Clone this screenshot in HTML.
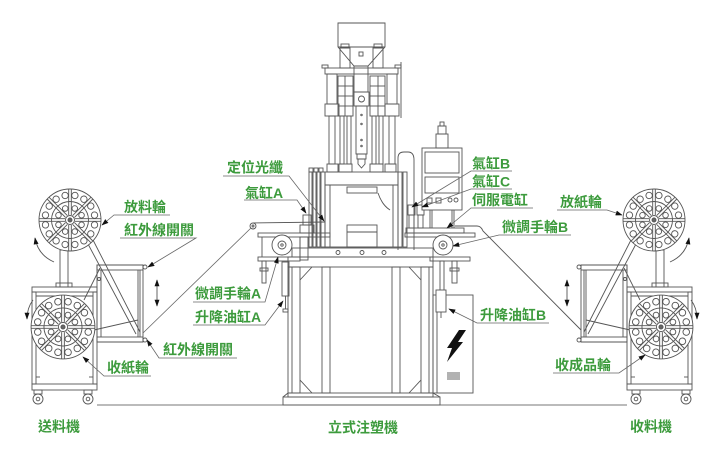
<!DOCTYPE html>
<html><head><meta charset="utf-8">
<style>
html,body{margin:0;padding:0;background:#fff;}
svg{display:block}
.l{fill:none;stroke:#555;stroke-width:0.9}
.t{font-family:"Liberation Sans","Noto Sans CJK TC",sans-serif;font-size:14px;fill:#3d9b3d;font-weight:bold}
.u{fill:none;stroke:#666;stroke-width:0.8}
</style></head><body>
<svg width="720" height="463" viewBox="0 0 720 463" xmlns="http://www.w3.org/2000/svg">
<defs>
<marker id="ar" viewBox="0 0 10 10" refX="9" refY="5" markerWidth="7" markerHeight="7" orient="auto-start-reverse" markerUnits="userSpaceOnUse">
<path d="M0,1.5 L10,5 L0,8.5 z" fill="#111" stroke="none"/>
</marker>
<g id="wh" class="l">
<circle r="31" fill="#fff"/>
<circle r="18.5"/>
<circle r="4.5"/>
<circle r="2" fill="#666"/>
<g id="sp"><path d="M5,-1.3H31M5,1.3H31"/></g>
<use href="#sp" transform="rotate(45)"/><use href="#sp" transform="rotate(90)"/><use href="#sp" transform="rotate(135)"/>
<use href="#sp" transform="rotate(180)"/><use href="#sp" transform="rotate(225)"/><use href="#sp" transform="rotate(270)"/><use href="#sp" transform="rotate(315)"/>
<circle cx="25" r="3.2" transform="rotate(11.25)"/><circle cx="25" r="3.2" transform="rotate(33.75)"/>
<circle cx="25" r="3.2" transform="rotate(56.25)"/><circle cx="25" r="3.2" transform="rotate(78.75)"/>
<circle cx="25" r="3.2" transform="rotate(101.25)"/><circle cx="25" r="3.2" transform="rotate(123.75)"/>
<circle cx="25" r="3.2" transform="rotate(146.25)"/><circle cx="25" r="3.2" transform="rotate(168.75)"/>
<circle cx="25" r="3.2" transform="rotate(191.25)"/><circle cx="25" r="3.2" transform="rotate(213.75)"/>
<circle cx="25" r="3.2" transform="rotate(236.25)"/><circle cx="25" r="3.2" transform="rotate(258.75)"/>
<circle cx="25" r="3.2" transform="rotate(281.25)"/><circle cx="25" r="3.2" transform="rotate(303.75)"/>
<circle cx="25" r="3.2" transform="rotate(326.25)"/><circle cx="25" r="3.2" transform="rotate(348.75)"/>
<circle cx="12.5" r="2.8" transform="rotate(22.5)"/><circle cx="12.5" r="2.8" transform="rotate(67.5)"/>
<circle cx="12.5" r="2.8" transform="rotate(112.5)"/><circle cx="12.5" r="2.8" transform="rotate(157.5)"/>
<circle cx="12.5" r="2.8" transform="rotate(202.5)"/><circle cx="12.5" r="2.8" transform="rotate(247.5)"/>
<circle cx="12.5" r="2.8" transform="rotate(292.5)"/><circle cx="12.5" r="2.8" transform="rotate(337.5)"/>
</g>
<g id="fd" class="l">
 <rect x="60" y="250" width="8" height="37"/>
 <rect x="56" y="283" width="16" height="4"/>
 <rect x="32" y="287" width="65" height="5"/>
 <rect x="32" y="292" width="4" height="92"/>
 <rect x="93" y="292" width="4" height="92"/>
 <line x1="36" y1="296" x2="93" y2="296"/>
 <rect x="32" y="384" width="65" height="6"/>
 <line x1="36" y1="377" x2="40" y2="377"/><line x1="89" y1="377" x2="93" y2="377"/>
 <rect x="34" y="390" width="8" height="4"/>
 <circle cx="38" cy="399" r="5"/><circle cx="38" cy="399" r="1.8"/>
 <rect x="84" y="390" width="8" height="4"/>
 <circle cx="88" cy="399" r="5"/><circle cx="88" cy="399" r="1.8"/>
 <rect x="97" y="265" width="46" height="77"/>
 <rect x="97" y="265" width="46" height="5"/>
 <rect x="97" y="337" width="46" height="5"/>
 <line x1="101" y1="270" x2="101" y2="337"/>
 <line x1="138" y1="270" x2="138" y2="337"/>
 <line x1="140" y1="270" x2="140" y2="337"/>
 <circle cx="145" cy="267" r="2"/><circle cx="145" cy="340" r="2"/>
 <circle cx="99" cy="279" r="1.5"/>
 <line x1="92" y1="238" x2="140" y2="332"/>
 <line x1="88" y1="244" x2="136" y2="334"/>
 <line x1="84" y1="300" x2="100" y2="268"/>
 <line x1="94" y1="330" x2="138" y2="320"/>
 <use href="#wh" x="70" y="220"/>
 <use href="#wh" transform="translate(63,327) scale(1.03)"/>
 <path d="M54,262 Q38,255 35,238" marker-end="url(#ar)"/>
 <path d="M33,300 Q27,308 27,319" marker-end="url(#ar)"/>
 <path d="M157,280 V306" marker-start="url(#ar)" marker-end="url(#ar)"/>
</g>
</defs>

<line x1="97" y1="405" x2="627" y2="405" stroke="#777" stroke-width="0.9"/>

<use href="#fd"/>
<use href="#fd" transform="matrix(-1,0,0,1,724,0)"/>

<g class="l">
 <path d="M338,23H385V47L368,66H354L338,47Z" fill="#fff"/>
 <line x1="338" y1="47" x2="385" y2="47"/>
 <rect x="359" y="52" width="4" height="4"/>
 <rect x="341" y="44" width="8" height="4"/><rect x="340" y="48" width="10" height="20"/>
 <rect x="374" y="44" width="8" height="4"/><rect x="373" y="48" width="10" height="20"/>
 <rect x="354" y="66" width="14" height="26"/>
 <rect x="325" y="68" width="73" height="6"/>
 <rect x="322" y="65" width="6" height="3"/><rect x="395" y="65" width="6" height="3"/>
 <rect x="327" y="74" width="10" height="30"/><rect x="325" y="104" width="14" height="12"/><rect x="329" y="116" width="6" height="48"/>
 <rect x="387" y="74" width="10" height="30"/><rect x="385" y="104" width="14" height="12"/><rect x="389" y="116" width="6" height="48"/>
 <line x1="401" y1="62" x2="401" y2="118"/>
 <rect x="338" y="76" width="15" height="40"/>
 <line x1="338" y1="86" x2="353" y2="86"/><line x1="338" y1="96" x2="353" y2="96"/><line x1="338" y1="106" x2="353" y2="106"/>
 <line x1="345" y1="76" x2="345" y2="116"/>
 <rect x="370" y="76" width="15" height="40"/>
 <line x1="370" y1="86" x2="385" y2="86"/><line x1="370" y1="96" x2="385" y2="96"/><line x1="370" y1="106" x2="385" y2="106"/>
 <line x1="378" y1="76" x2="378" y2="116"/>
 <rect x="354" y="92" width="15" height="14"/><circle cx="361.5" cy="99" r="3"/>
 <rect x="356" y="106" width="11" height="48"/>
 <circle cx="361.5" cy="115" r="0.8"/><circle cx="361.5" cy="124" r="0.8"/><circle cx="361.5" cy="140" r="0.8"/><circle cx="361.5" cy="146" r="0.8"/>
 <rect x="357" y="154" width="9" height="5"/>
 <path d="M358,159H365V164L361.5,168L358,164Z"/>
 <rect x="340" y="116" width="4" height="48"/><rect x="347" y="116" width="4" height="48"/>
 <rect x="372" y="116" width="4" height="48"/><rect x="379" y="116" width="4" height="48"/>
 <rect x="327" y="164" width="11" height="8"/><rect x="339" y="164" width="13" height="8"/>
 <rect x="370" y="164" width="13" height="8"/><rect x="385" y="164" width="11" height="8"/>
 <path d="M398,250V158Q398,152 404,152H408Q414,152 414,160V250"/>
 <rect x="309" y="172" width="3" height="75"/><rect x="313" y="172" width="3" height="75"/>
 <rect x="317" y="172" width="3" height="75"/><rect x="321" y="172" width="4" height="75"/>
 <rect x="309" y="168" width="4" height="4"/><rect x="314" y="168" width="4" height="4"/><rect x="319" y="168" width="4" height="4"/>
 <rect x="325" y="172" width="73" height="13"/>
 <rect x="325" y="185" width="73" height="62"/>
 <line x1="330" y1="185" x2="330" y2="247"/><line x1="393" y1="185" x2="393" y2="247"/>
 <rect x="347" y="187" width="30" height="6"/>
 <rect x="347" y="225" width="30" height="22"/><line x1="347" y1="232" x2="377" y2="232"/>
 <path d="M378,193Q382,205 390,210"/>
 <rect x="398" y="172" width="4" height="75"/><rect x="403" y="172" width="4" height="75"/>
 <path d="M253,223 L325,222"/>
 <circle cx="253" cy="226" r="3"/><circle cx="253" cy="226" r="1"/>
 <rect x="258" y="233" width="72" height="4"/>
 <rect x="258" y="257" width="42" height="4"/>
 <line x1="262" y1="237" x2="262" y2="257"/><line x1="300" y1="237" x2="300" y2="257"/>
 <rect x="262" y="261" width="4" height="22"/><rect x="260" y="268" width="8" height="3"/>
 <rect x="282" y="262" width="7" height="34"/>
 <line x1="285.5" y1="296" x2="285.5" y2="309"/><rect x="283" y="309" width="5" height="3"/>
 <rect x="303" y="215" width="8" height="10"/><rect x="300" y="225" width="14" height="8"/>
 <rect x="300" y="237" width="8" height="23"/>
 <circle cx="282" cy="245" r="10" fill="#fff"/><circle cx="282" cy="245" r="4"/><circle cx="282" cy="245" r="1.2"/>
 <rect x="405" y="233" width="70" height="4"/>
 <rect x="430" y="257" width="40" height="4"/>
 <path d="M455,226H477Q481,226 483,231L581,330"/>
 <rect x="408" y="205" width="7" height="10"/><rect x="409" y="215" width="5" height="13"/>
 <rect x="417" y="205" width="7" height="10"/><rect x="418" y="215" width="5" height="13"/>
 <rect x="406" y="228" width="58" height="5"/>
 <line x1="430" y1="210" x2="430" y2="228"/><line x1="432" y1="210" x2="432" y2="228"/>
 <line x1="452" y1="210" x2="452" y2="228"/><line x1="454" y1="210" x2="454" y2="228"/>
 <rect x="452" y="261" width="5" height="22"/><rect x="450" y="268" width="9" height="3"/>
 <rect x="440" y="261" width="4" height="36"/>
 <circle cx="443" cy="245" r="10" fill="#fff"/><circle cx="443" cy="245" r="4"/><circle cx="443" cy="245" r="1.2"/>
 <rect x="422" y="148" width="40" height="62" fill="#fff"/>
 <rect x="425" y="152" width="34" height="21"/>
 <rect x="425" y="177" width="34" height="16"/>
 <rect x="427" y="198" width="5" height="5"/><rect x="436" y="198" width="5" height="5"/>
 <circle cx="450" cy="200" r="2"/><circle cx="456" cy="200" r="2"/>
 <rect x="436" y="134" width="12" height="14"/><rect x="438" y="126" width="8" height="8"/><rect x="440" y="122" width="4" height="4"/>
 <rect x="292" y="248" width="141" height="9"/>
 <circle cx="338" cy="252.5" r="2"/><circle cx="362" cy="252.5" r="2"/><circle cx="384" cy="252.5" r="2"/>
 <rect x="288" y="257" width="145" height="10"/>
 <rect x="288" y="267" width="12" height="126"/><line x1="292" y1="267" x2="292" y2="393"/>
 <rect x="421" y="267" width="12" height="126"/><line x1="429" y1="267" x2="429" y2="393"/>
 <rect x="322" y="267" width="8" height="126"/>
 <rect x="392" y="267" width="8" height="126"/>
 <line x1="300" y1="280" x2="312" y2="267"/><line x1="409" y1="267" x2="421" y2="280"/>
 <line x1="300" y1="380" x2="312" y2="393"/><line x1="409" y1="393" x2="421" y2="380"/>
 <rect x="288" y="393" width="145" height="4"/>
 <rect x="283" y="397" width="157" height="8"/>
 <path d="M283,397L288,393M440,397L433,393"/>
 <rect x="433" y="295" width="40" height="98"/>
 <line x1="437" y1="295" x2="437" y2="393"/>
 <rect x="436" y="290" width="10" height="22" fill="#fff"/>
 <line x1="441" y1="312" x2="441" y2="318"/>
 <line x1="447" y1="373" x2="460" y2="373"/><line x1="447" y1="375" x2="460" y2="375"/>
 <line x1="447" y1="377" x2="460" y2="377"/><line x1="447" y1="379" x2="460" y2="379"/>
</g>
<polygon points="459,330 466,330 458,342 463,342 447,362 452,348 447,348" fill="#111"/>

<line x1="251" y1="228" x2="143" y2="333" stroke="#666" stroke-width="0.8"/>

<g class="u">
 <path d="M170,215H114L102,225" marker-end="url(#ar)"/>
 <path d="M120,238H196L148,267" marker-end="url(#ar)"/>
 <path d="M237,358H159L147,340" marker-end="url(#ar)"/>
 <path d="M151,376H104L83,357" marker-end="url(#ar)"/>
 <path d="M223,176H289L324,221" marker-end="url(#ar)"/>
 <path d="M244,200H297L306,213" marker-end="url(#ar)"/>
 <path d="M193,302H265L278,257" marker-end="url(#ar)"/>
 <path d="M193,325H265L283,301" marker-end="url(#ar)"/>
 <path d="M512,171H471L412,207" marker-end="url(#ar)"/>
 <path d="M512,189H471L422,207" marker-end="url(#ar)"/>
 <path d="M533,208H471L447,228" marker-end="url(#ar)"/>
 <path d="M571,235H499L453,246" marker-end="url(#ar)"/>
 <path d="M549,323H477L449,309" marker-end="url(#ar)"/>
 <path d="M557,210H607L622,215" marker-end="url(#ar)"/>
 <path d="M553,373H619L645,355" marker-end="url(#ar)"/>
</g>

<g class="t">
<text x="124" y="212">放料輪</text>
<text x="124" y="235">紅外線開關</text>
<text x="163" y="354.5">紅外線開關</text>
<text x="107" y="372.5">收紙輪</text>
<text x="38" y="431.5">送料機</text>
<text x="227" y="172.5">定位光纖</text>
<text x="245" y="198">氣缸A</text>
<text x="195" y="298.5">微調手輪A</text>
<text x="195" y="322">升降油缸A</text>
<text x="472" y="168.5">氣缸B</text>
<text x="472" y="186.5">氣缸C</text>
<text x="472" y="205">伺服電缸</text>
<text x="502" y="232">微調手輪B</text>
<text x="480" y="320">升降油缸B</text>
<text x="560" y="207">放紙輪</text>
<text x="555" y="370">收成品輪</text>
<text x="328" y="432.5">立式注塑機</text>
<text x="630" y="431.5">收料機</text>
</g>
</svg>
</body></html>
